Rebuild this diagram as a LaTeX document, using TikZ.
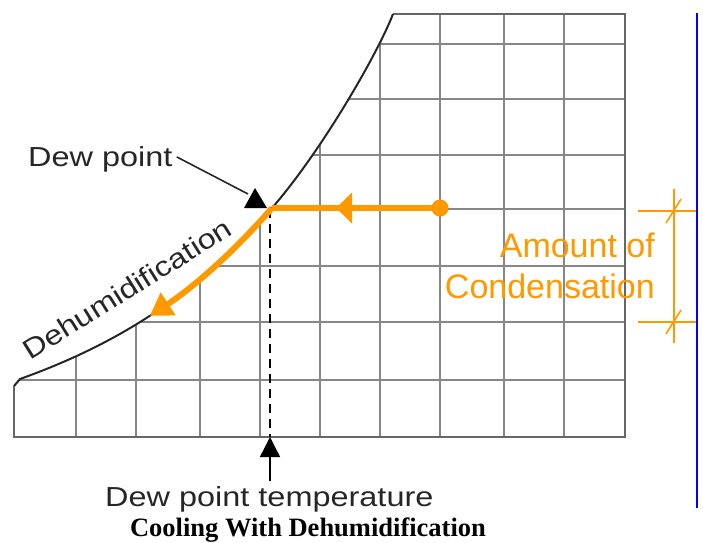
\documentclass[tikz,border=0pt]{standalone}
\usepackage{fontspec}
\usetikzlibrary{arrows.meta}
\newfontfamily\labfont[FakeStretch=1.18]{Liberation Sans}
\newfontfamily\amtfont{Liberation Sans}
\newfontfamily\captionfnt{Liberation Serif}
\definecolor{procorange}{RGB}{255,153,0}
\definecolor{gridgray}{RGB}{135,135,135}
\tikzset{
  gridline/.style={draw=gridgray, line width=2.2pt},
  satcurve/.style={draw=black!85, line width=2pt},
  border/.style={draw=black!60, line width=2.6pt},
  lbl/.style={inner sep=0pt, text=black!85, font=\labfont\fontsize{27.5}{30}\selectfont},
  amt/.style={inner sep=0pt, text=procorange, font=\amtfont\fontsize{34}{36}\selectfont},
  process/.style={draw=procorange, line width=6pt},
  dimline/.style={draw=procorange, line width=1.6pt},
}
\begin{document}
\begin{tikzpicture}[x=1pt,y=-1pt]
\useasboundingbox (0,0) rectangle (703,542);
% points
\coordinate (corner) at (20,379);
\coordinate (dew) at (272,208);
\coordinate (topcurve) at (393,14);
\coordinate (startpt) at (440,208);
\coordinate (midtip) at (336,208);
\coordinate (arrowend) at (149.75,315.85);
\coordinate (dewbase) at (270,209);
\coordinate (axis) at (270,437);
\coordinate (tempfoot) at (270,481);
\coordinate (dptri) at (248,194);
% grid clipped to the chart region
\begin{scope}
  \clip (14,437) -- (14,386) -- (corner) .. controls (110,346.6) and (192,300) .. (dew)
        .. controls (322,150.5) and (378,53) .. (topcurve) -- (625,14) -- (625,437) -- cycle;
  \foreach \gx in {76,136,200,260,320,380,440,504,564}
    \draw[gridline] (\gx,437) -- (\gx,10);
  \foreach \gy in {44,99,155,209,266,322,380}
    \draw[gridline] (10,\gy) -- (630,\gy);
\end{scope}
% outline
\draw[border] (14,386) -- (14,437) -- (625,437) -- (625,14) -- (topcurve);
\draw[satcurve] (14,386) -- (corner) .. controls (110,346.6) and (192,300) .. (dew)
      .. controls (322,150.5) and (378,53) .. (topcurve);
% dashed dew point line
\draw[black, line width=1.6pt, dash pattern=on 9pt off 6pt] (dewbase) -- (axis);
% bottom arrow
\draw[black, line width=1.4pt, -{Triangle[width=20pt,length=20pt]}] (tempfoot) -- (axis);
% labels
\node[lbl, anchor=base west] (dewtxt) at (28,166) {Dew point};
\node[lbl, rotate=32] (dehum) at (127,289) {Dehumidification};
\node[lbl, anchor=base west] (temptxt) at (105,506) {Dew point temperature};
% dew point pointer
\draw[black!85, line width=1.6pt] (dewtxt.east) ++(4,-2) -- (dptri);
\fill[black] (244,208) -- (267,208) -- (255,188) -- cycle;
% process lines
\draw[process] (startpt) -- (dew);
\draw[process, -{Triangle[width=30pt,length=16pt]}] (startpt) -- (midtip);
\draw[process, -{Triangle[width=26pt,length=22pt]}] (dew) .. controls (232,254) and (191.5,288.65) .. (arrowend);
\fill[procorange] (startpt) circle (8.5pt);
% amount of condensation dimension
\coordinate (dimtop) at (674,189);
\coordinate (dimbot) at (674,343);
\draw[procorange, line width=2.6pt] (dimtop) -- (dimbot);
\draw[dimline] (638,211) -- (696,211);
\draw[dimline] (638,322) -- (696,322);
\draw[dimline] (666,223) -- (681,199);
\draw[dimline] (666,334) -- (681,310);
\node[amt, anchor=base east] (amt1) at (655,257) {Amount of};
\node[amt, anchor=base east] (amt2) at (655,298) {Condensation};
% blue rule
\draw[blue, line width=2.5pt] (697,13) -- (697,508);
% caption
\node[inner sep=0pt, anchor=base, font=\captionfnt\bfseries\fontsize{26.5}{28}\selectfont] (caption) at (308,536) {Cooling With Dehumidification};
\end{tikzpicture}
\end{document}
